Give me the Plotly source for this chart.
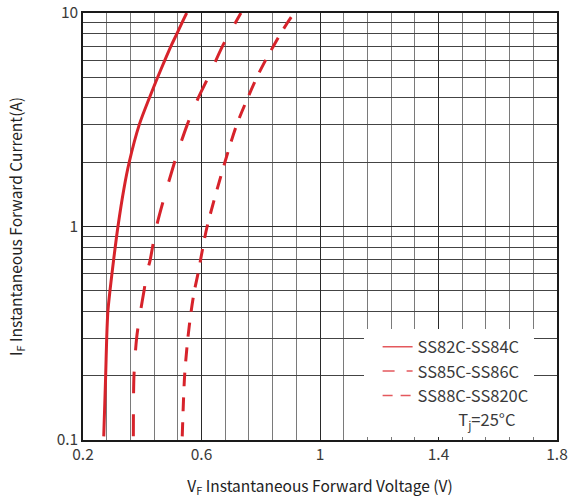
import plotly.graph_objects as go

# Forward current (A) and voltage (V)
cur_a = [0.104, 0.2, 0.3, 0.4, 0.5, 0.7, 1, 1.5, 2, 3, 4, 5, 6, 7, 8, 9, 10]
v_ss82 = [0.270, 0.2765, 0.280, 0.284, 0.291, 0.3035, 0.318, 0.338, 0.356, 0.390, 0.424, 0.452, 0.476, 0.497, 0.517, 0.534, 0.550]

cur_b = [0.104, 0.2, 0.3, 0.4, 0.5, 0.6, 0.7, 1, 2, 3, 4, 5, 7, 10]
v_ss85 = [0.370, 0.372, 0.381, 0.394, 0.406, 0.415, 0.427, 0.448, 0.509, 0.552, 0.589, 0.623, 0.671, 0.733]

cur_c = [0.104, 0.2, 0.3, 0.4, 0.5, 0.6, 0.7, 1, 2, 3, 4, 5, 6, 7, 8, 9, 10]
v_ss88 = [0.535, 0.543, 0.554, 0.565, 0.576, 0.588, 0.597, 0.619, 0.679, 0.719, 0.756, 0.787, 0.816, 0.843, 0.867, 0.890, 0.912]

names = ["SS82C-SS84C", "SS85C-SS86C", "SS88C-SS820C"]
x_ticks = [0.2, 0.6, 1.0, 1.4, 1.8]
x_tick_text = ["0.2", "0.6", "1", "1.4", "1.8"]
y_ticks = [0.1, 1, 10]
y_tick_text = ["0.1", "1", "10"]

RED = "#d7232b"
LEG_RED = "#e4585d"
FONT = "Noto Sans CJK SC"
TXT = "#3a3a3a"

fig = go.Figure()
fig.add_trace(go.Scatter(x=v_ss82, y=cur_a, mode="lines", line=dict(color=RED, width=3, shape="spline", smoothing=0.8),
                         showlegend=False, hoverinfo="skip"))
fig.add_trace(go.Scatter(x=v_ss85, y=cur_b, mode="lines", line=dict(color=RED, width=3, dash="22px,21px", shape="spline", smoothing=0.8),
                         showlegend=False, hoverinfo="skip"))
fig.add_trace(go.Scatter(x=v_ss88, y=cur_c, mode="lines", line=dict(color=RED, width=3, dash="14px,11px", shape="spline", smoothing=0.8),
                         showlegend=False, hoverinfo="skip"))

# legend entries
fig.add_trace(go.Scatter(x=[None], y=[None], mode="lines", name=names[0],
                         line=dict(color=LEG_RED, width=1.5)))
fig.add_trace(go.Scatter(x=[None], y=[None], mode="lines", name=names[1],
                         line=dict(color=LEG_RED, width=1.5, dash="12px,12px")))
fig.add_trace(go.Scatter(x=[None], y=[None], mode="lines", name=names[2],
                         line=dict(color=LEG_RED, width=1.5, dash="10px,8px")))
fig.add_trace(go.Scatter(x=[None], y=[None], mode="lines",
                         name="\u00a0" * 11 + "T<sub>j</sub>=25°C",
                         line=dict(color="rgba(0,0,0,0)", width=1)))

fig.update_layout(
    width=577, height=501,
    margin=dict(l=83, r=20, t=13, b=61),
    paper_bgcolor="white", plot_bgcolor="white",
    font=dict(family=FONT, color=TXT, size=15),
    legend=dict(x=0.592, xanchor="left", y=0.006, yanchor="bottom",
                bgcolor="white", borderwidth=0, font=dict(size=16.5, color=TXT, family=FONT),
                tracegroupgap=0, itemclick=False, itemdoubleclick=False, indentation=14),
)

fig.update_xaxes(
    range=[0.2, 1.8], tickmode="array", tickvals=x_ticks, ticktext=x_tick_text,
    showgrid=True, gridcolor="#2a2a2a", gridwidth=1,
    minor=dict(tick0=0.2, dtick=0.08, showgrid=True, gridcolor="#7a7a7a", gridwidth=1.2),
    showline=True, linecolor="#1a1a1a", linewidth=1.5, mirror=True, zeroline=False,
    ticks="", tickfont=dict(size=15.5, color=TXT), automargin=False,
    title=dict(text="V<sub>F</sub> Instantaneous Forward Voltage (V)", font=dict(size=15.5, color="#222"), standoff=18),
)
fig.update_yaxes(
    type="log", range=[-1, 1], tickmode="array", tickvals=y_ticks, ticktext=y_tick_text,
    showgrid=True, gridcolor="#2a2a2a", gridwidth=1,
    minor=dict(dtick="D1", showgrid=True, gridcolor="#444444", gridwidth=1.2),
    showline=True, linecolor="#1a1a1a", linewidth=1.5, mirror=True, zeroline=False,
    ticks="", tickfont=dict(size=15.5, color=TXT), automargin=False,
    title=dict(text="I<sub>F</sub> Instantaneous Forward Current(A)", font=dict(size=15.5, color="#222"), standoff=30),
)

fig.write_html("out.html", config={"displayModeBar": False},
               post_script="document.body.style.margin='0';")
